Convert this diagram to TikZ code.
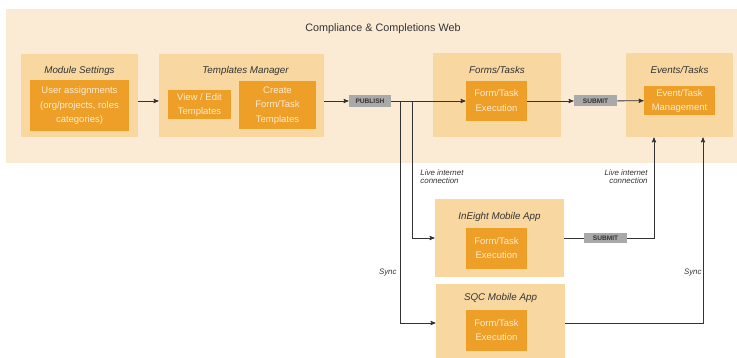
\documentclass[tikz,border=0pt]{standalone}
\usepackage{fontspec}
\setmainfont{Liberation Sans}
\usepackage{tikz}
\usetikzlibrary{arrows}
\usetikzlibrary{positioning}

\definecolor{bandfill}{HTML}{FCEBD4}
\definecolor{outerfill}{HTML}{F9D7A1}
\definecolor{innerfill}{HTML}{EE9F27}
\definecolor{innertext}{HTML}{FDEBD2}
\definecolor{tagfill}{HTML}{A9A9A9}
\definecolor{inkgray}{HTML}{333333}

\begin{document}
\begin{tikzpicture}[->,>=stealth', x=1pt, y=1pt, line width=0.85pt, draw=inkgray,
    outerbox/.style={fill=outerfill, inner sep=0pt},
    innerbox/.style={fill=innerfill, inner sep=0pt, text=innertext,
      font=\fontsize{9.5}{14.5}\selectfont},
    boxtitle/.style={inner sep=0pt, text=inkgray, font=\fontsize{9.8}{11}\selectfont\itshape},
    tagbox/.style={fill=tagfill, inner sep=0pt, text=inkgray,
      minimum width=43pt, font=\fontsize{6.6}{7}\selectfont\bfseries},
    note/.style={inner sep=0pt, text=inkgray, font=\fontsize{7.9}{8.3}\selectfont\itshape}]
    \useasboundingbox (0,0) rectangle (737,-358);

    % BACKGROUND
    \fill[bandfill] (6,-9) rectangle (737,-163);
    \node[inner sep=0pt, text=inkgray, font=\fontsize{10.8}{12}\selectfont]
      (WEB_TITLE) at (383,-29) {Compliance \& Completions Web};

    % FIRST LAYER
    \node[outerbox, minimum width=117pt, minimum height=83pt] (MODULE_SETTINGS) at (79.5,-95.5) {};
    \node[boxtitle, node distance=24.5pt, above of=MODULE_SETTINGS] (MODULE_SETTINGS_TITLE) {Module Settings};
    \node[innerbox, minimum width=99pt, minimum height=51pt] (USER_ASSIGNMENTS) at (79.5,-105.5)
    {
      \begin{tabular}{c}
        User assignments\\ (org/projects, roles\\ categories)
      \end{tabular}
    };

    \node[outerbox, minimum width=165pt, minimum height=83pt] (TEMPLATES_MANAGER) at (241.5,-95.5) {};
    \node[boxtitle, node distance=24.5pt, above of=TEMPLATES_MANAGER, xshift=4pt] (TEMPLATES_MANAGER_TITLE) {Templates Manager};
    \node[innerbox, minimum width=63pt, minimum height=29pt] (VIEW_EDIT) at (199.5,-104.5)
    {
      \begin{tabular}{c}
        View / Edit\\ Templates
      \end{tabular}
    };
    \node[innerbox, minimum width=77pt, minimum height=48pt] (CREATE_TEMPLATES) at (277.5,-105)
    {
      \begin{tabular}{c}
        Create\\ Form/Task\\ Templates
      \end{tabular}
    };

    \node[tagbox, minimum width=42pt, minimum height=12pt] (PUBLISH) at (370,-101) {PUBLISH};

    \node[outerbox, minimum width=128pt, minimum height=84pt] (FORMS_TASKS) at (497,-95) {};
    \node[boxtitle, node distance=25pt, above of=FORMS_TASKS] (FORMS_TASKS_TITLE) {Forms/Tasks};
    \node[innerbox, minimum width=61pt, minimum height=40pt] (FORM_TASK_WEB) at (496.5,-101)
    {
      \begin{tabular}{c}
        Form/Task\\ Execution
      \end{tabular}
    };

    \node[tagbox, minimum height=11pt] (SUBMIT_WEB) at (595.5,-101) {SUBMIT};

    \node[outerbox, minimum width=107pt, minimum height=84pt] (EVENTS_TASKS) at (679.5,-95) {};
    \node[boxtitle, node distance=25pt, above of=EVENTS_TASKS] (EVENTS_TASKS_TITLE) {Events/Tasks};
    \node[innerbox, minimum width=71pt, minimum height=29pt] (EVENT_TASK_MGMT) at (679.5,-100.5)
    {
      \begin{tabular}{c}
        Event/Task\\ Management
      \end{tabular}
    };

    % SECOND LAYER
    \node[outerbox, minimum width=129pt, minimum height=78pt] (INEIGHT_APP) at (499.5,-238) {};
    \node[boxtitle, node distance=21pt, above of=INEIGHT_APP] (INEIGHT_APP_TITLE) {InEight Mobile App};
    \node[innerbox, minimum width=61pt, minimum height=41pt] (FORM_TASK_INEIGHT) at (496.5,-248.5)
    {
      \begin{tabular}{c}
        Form/Task\\ Execution
      \end{tabular}
    };

    \node[tagbox, minimum height=10pt] (SUBMIT_MOBILE) at (605.5,-238) {SUBMIT};

    % THIRD LAYER
    \node[outerbox, minimum width=129pt, minimum height=78pt] (SQC_APP) at (500.5,-323) {};
    \node[boxtitle, node distance=25pt, above of=SQC_APP] (SQC_APP_TITLE) {SQC Mobile App};
    \node[innerbox, minimum width=61pt, minimum height=41pt] (FORM_TASK_SQC) at (496.5,-330.5)
    {
      \begin{tabular}{c}
        Form/Task\\ Execution
      \end{tabular}
    };

    % LABELS
    \node[note, anchor=north west] (LIVE_NOTE_LEFT) at (420,-169)
    {\begin{tabular}{@{}l@{}}Live internet\\ connection\end{tabular}};
    \node[note, anchor=north east] (LIVE_NOTE_RIGHT) at (648,-169)
    {\begin{tabular}{@{}r@{}}Live internet\\ connection\end{tabular}};
    \node[note, anchor=east] (SYNC_NOTE_LEFT) at (397,-273) {Sync};
    \node[note, anchor=east] (SYNC_NOTE_RIGHT) at (702,-273) {Sync};

    % LINES
    \coordinate (SYNC_SPLIT) at (400,-101);
    \coordinate (LIVE_SPLIT) at (412,-101);
    \coordinate (EVENTS_LIVE_IN) at ([xshift=-25.5pt]EVENTS_TASKS.south);
    \coordinate (EVENTS_SYNC_IN) at ([xshift=23.5pt]EVENTS_TASKS.south);

    \path
    (MODULE_SETTINGS.east |- PUBLISH) edge (TEMPLATES_MANAGER.west |- PUBLISH)
    (TEMPLATES_MANAGER.east |- PUBLISH) edge (PUBLISH)
    (PUBLISH) edge (FORM_TASK_WEB)
    (FORM_TASK_WEB) edge (SUBMIT_WEB)
    (SUBMIT_WEB) edge (EVENT_TASK_MGMT)
    (INEIGHT_APP) edge[-] (SUBMIT_MOBILE)
    ;
    \draw (LIVE_SPLIT) |- (INEIGHT_APP);
    \draw (SYNC_SPLIT) |- (SQC_APP);
    \draw (SUBMIT_MOBILE) -| (EVENTS_LIVE_IN);
    \draw (SQC_APP) -| (EVENTS_SYNC_IN);
  \end{tikzpicture}
\end{document}
